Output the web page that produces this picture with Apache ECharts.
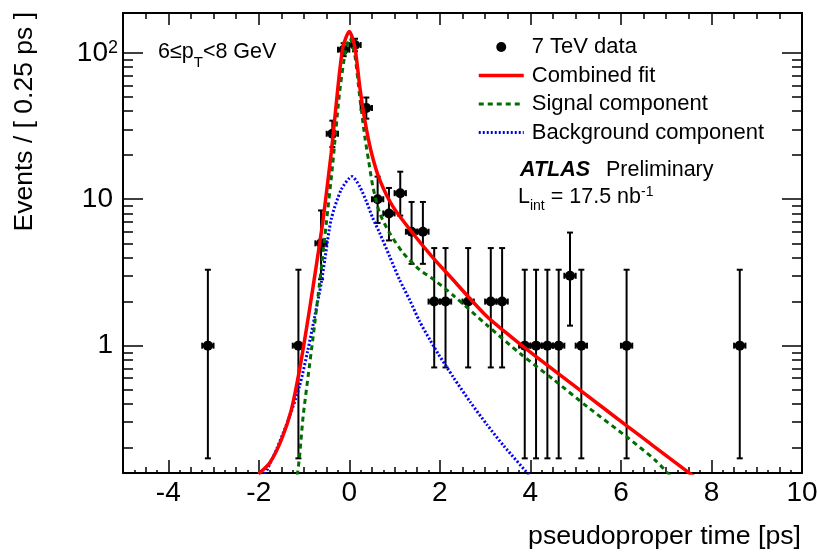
<!DOCTYPE html>
<html>
<head>
<meta charset="utf-8">
<script src="https://cdn.jsdelivr.net/npm/echarts@6/dist/echarts.min.js"></script>
<style>
html, body { margin: 0; padding: 0; background: #fff; }
#main { width: 817px; height: 552px; }
</style>
</head>
<body>
<div id="main"></div>
<script>
// data points: bin centres, counts, error bar ends
var dataX = [-3.125, -1.125, -0.625, -0.375, -0.125, 0.125, 0.375, 0.625, 0.875, 1.125, 1.375, 1.625, 1.875, 2.125, 2.625, 3.125, 3.375, 3.875, 4.125, 4.375, 4.625, 4.875, 5.125, 6.125, 8.625];
var dataY = [1, 1, 5, 28, 105, 113, 42, 10, 8, 11, 6, 6, 2, 2, 2, 2, 2, 1, 1, 1, 1, 3, 1, 1, 1];
var errLow = [0.17, 0.17, 2.84, 22.7, 94.8, 102.4, 35.5, 6.89, 5.23, 7.73, 3.62, 3.62, 0.71, 0.71, 0.71, 0.71, 0.71, 0.17, 0.17, 0.17, 0.17, 1.37, 0.17, 0.17, 0.17];
var errHigh = [3.30, 3.30, 8.38, 34.4, 116.3, 124.7, 49.5, 14.27, 11.94, 15.42, 9.58, 9.58, 4.64, 4.64, 4.64, 4.64, 4.64, 3.30, 3.30, 3.30, 3.30, 5.92, 3.30, 3.30, 3.30];
var binHalf = 0.125;

// fit curves
var combX = [-2.01, -1.76, -1.50, -1.28, -1.10, -0.95, -0.80, -0.655, -0.58, -0.40, -0.25, -0.14, 0.0, 0.12, 0.23, 0.34, 0.49, 0.67, 0.96, 1.41, 1.85, 2.29, 2.65, 3.04, 3.40, 3.78, 4.53, 5.27, 6.16, 6.75, 7.61];
var combY = [0.133, 0.158, 0.228, 0.366, 0.686, 1.29, 2.54, 5.02, 7.25, 20.7, 58.9, 110, 140, 110, 58.9, 34.9, 20.7, 13.6, 8.93, 5.81, 3.98, 2.82, 2.12, 1.58, 1.27, 1.02, 0.676, 0.452, 0.279, 0.203, 0.128];

var sigX = [-1.15, -1.10, -1.02, -0.91, -0.80, -0.69, -0.60, -0.51, -0.37, -0.22, -0.08, 0.01, 0.12, 0.23, 0.34, 0.43, 0.52, 0.67, 0.89, 1.19, 1.55, 1.85, 2.30, 3.04, 3.78, 4.53, 5.27, 6.16, 6.75, 7.08];
var sigY = [0.13, 0.175, 0.33, 0.62, 1.15, 2.2, 3.8, 6.8, 17, 52, 105, 126, 97, 50, 27, 18, 12.2, 8.05, 5.88, 4.29, 3.3, 2.85, 2.2, 1.38, 0.88, 0.58, 0.38, 0.234, 0.166, 0.13];

var bkgX = [-1.86, -1.61, -1.32, -1.10, -0.92, -0.765, -0.62, -0.54, -0.40, -0.18, 0.06, 0.23, 0.38, 0.52, 0.67, 0.89, 1.11, 1.33, 1.55, 1.78, 1.96, 2.30, 2.67, 3.04, 3.41, 3.97];
var bkgY = [0.133, 0.195, 0.329, 0.53, 0.92, 1.58, 2.68, 3.9, 7.3, 11.6, 14.3, 12.2, 9.6, 7.4, 5.88, 4.07, 2.82, 2.06, 1.47, 1.097, 0.883, 0.607, 0.413, 0.289, 0.207, 0.131];

// axis ticks
var xMajor = [-4, -2, 0, 2, 4, 6, 8];
var xLabels = [-4, -2, 0, 2, 4, 6, 8, 10];
var yMajor = [1, 10, 100];
var yMinor = [0.2, 0.3, 0.4, 0.5, 0.6, 0.7, 0.8, 0.9, 2, 3, 4, 5, 6, 7, 8, 9, 20, 30, 40, 50, 60, 70, 80, 90];

var FONT = '"Liberation Sans", Arial, Helvetica, sans-serif';

function pairs(xs, ys) {
    return xs.map(function (x, i) { return [x, ys[i]]; });
}

var myChart = echarts.init(document.getElementById('main'));

var tickStyle = { color: '#000', width: 1.5 };
var frameLine = { show: true, onZero: false, lineStyle: { color: '#000', width: 2 } };
var noLine = { show: false, onZero: false };

function xAx(pos, extra) {
    return Object.assign({
        type: 'value', position: pos, min: -5, max: 10,
        axisLine: noLine, splitLine: { show: false },
        axisLabel: { show: false }
    }, extra);
}
function yAx(pos, extra) {
    return Object.assign({
        type: 'log', position: pos, min: 0.135, max: 187,
        axisLine: noLine, splitLine: { show: false },
        axisLabel: { show: false }
    }, extra);
}

myChart.setOption({
    animation: false,
    backgroundColor: '#fff',
    grid: { left: 123, top: 13, width: 679, height: 460, outerBoundsMode: 'none' },
    xAxis: [
        xAx('bottom', {
            interval: 0.5, axisLine: frameLine,
            axisTick: { inside: true, length: 6, lineStyle: tickStyle },
            minorTick: { show: true, splitNumber: 2, length: 3, lineStyle: tickStyle }
        }),
        xAx('bottom', {
            axisTick: { inside: true, length: 13, customValues: xMajor, lineStyle: tickStyle },
            axisLabel: { show: true, customValues: xLabels, fontSize: 28, fontFamily: FONT, color: '#000', margin: 6 }
        }),
        xAx('top', {
            interval: 0.5, axisLine: frameLine,
            axisTick: { inside: true, length: 6, lineStyle: tickStyle }
        }),
        xAx('top', {
            axisTick: { inside: true, length: 12, customValues: xMajor, lineStyle: tickStyle }
        })
    ],
    yAxis: [
        yAx('left', {
            axisLine: frameLine,
            axisTick: { inside: true, length: 20, customValues: yMajor, lineStyle: tickStyle },
            axisLabel: {
                show: true, customValues: yMajor, margin: 5, color: '#000', fontSize: 28, fontFamily: FONT,
                formatter: function (v) {
                    if (Math.round(Math.log10(v)) === 2) return '{n|10}{s|2}';
                    return '{p|' + Math.round(v) + '}';
                },
                rich: {
                    n: { fontSize: 28, fontFamily: FONT, color: '#000' },
                    p: { fontSize: 28, fontFamily: FONT, color: '#000', padding: [0, 5, 0, 0] },
                    s: { fontSize: 18, fontFamily: FONT, color: '#000', verticalAlign: 'top' }
                }
            }
        }),
        yAx('left', {
            axisTick: { inside: true, length: 10, customValues: yMinor, lineStyle: tickStyle }
        }),
        yAx('right', {
            axisLine: frameLine,
            axisTick: { inside: true, length: 20, customValues: yMajor, lineStyle: tickStyle }
        }),
        yAx('right', {
            axisTick: { inside: true, length: 10, customValues: yMinor, lineStyle: tickStyle }
        })
    ],
    legend: {
        orient: 'vertical', left: 477, top: 36, padding: 0,
        itemWidth: 45, itemHeight: 10, itemGap: 6.5,
        selectedMode: false,
        textStyle: { fontSize: 22, fontFamily: FONT, color: '#000', padding: [0, 0, 0, 3] },
        data: [
            { name: '7 TeV data', icon: 'circle' },
            { name: 'Combined fit', itemStyle: { opacity: 0 }, lineStyle: { width: 3.5 } },
            { name: 'Signal component', itemStyle: { opacity: 0 }, lineStyle: { width: 3 } },
            { name: 'Background component', itemStyle: { opacity: 0 }, lineStyle: { width: 3 } }
        ]
    },
    graphic: [
        {
            type: 'text', x: 158, y: 52,
            style: {
                text: '6≤p{sub|T}<8 GeV', fill: '#000', fontSize: 21.5, fontFamily: FONT,
                verticalAlign: 'middle',
                rich: { sub: { fontSize: 15, fontFamily: FONT, fill: '#000', padding: [22, 0, 0, 0] } }
            }
        },
        {
            type: 'text', x: 520, y: 170,
            style: { text: 'ATLAS', fill: '#000', fontSize: 21.5, fontFamily: FONT, fontWeight: 'bold', fontStyle: 'italic', verticalAlign: 'middle' }
        },
        {
            type: 'text', x: 606, y: 170,
            style: { text: 'Preliminary', fill: '#000', fontSize: 21.5, fontFamily: FONT, verticalAlign: 'middle' }
        },
        {
            type: 'text', x: 518, y: 197,
            style: {
                text: 'L{sub|int} = 17.5 nb{sup|-1}', fill: '#000', fontSize: 21.5, fontFamily: FONT,
                verticalAlign: 'middle',
                rich: {
                    sub: { fontSize: 14, fontFamily: FONT, fill: '#000', padding: [18, 0, 0, 0] },
                    sup: { fontSize: 14, fontFamily: FONT, fill: '#000', padding: [0, 0, 10, 0] }
                }
            }
        },
        {
            type: 'text', x: 801, y: 537,
            style: { text: 'pseudoproper time [ps]', fill: '#000', fontSize: 26.7, fontFamily: FONT, align: 'right', verticalAlign: 'middle' }
        },
        {
            type: 'text', x: 25, y: 12, rotation: Math.PI / 2,
            style: { text: 'Events / [ 0.25 ps ]', fill: '#000', fontSize: 26.5, fontFamily: FONT, align: 'right', verticalAlign: 'middle' }
        }
    ],
    series: [
        {
            name: '7 TeV data',
            type: 'custom',
            xAxisIndex: 0, yAxisIndex: 0,
            itemStyle: { color: '#000' },
            encode: { x: 0, y: 1 },
            data: dataX.map(function (x, i) { return [x, dataY[i], errLow[i], errHigh[i]]; }),
            z: 2,
            renderItem: function (params, api) {
                var x = api.value(0), y = api.value(1);
                var c = api.coord([x, y]);
                var lo = api.coord([x, api.value(2)]);
                var hi = api.coord([x, api.value(3)]);
                var l = api.coord([x - binHalf, y]);
                var r = api.coord([x + binHalf, y]);
                var st = { stroke: '#000', lineWidth: 2 };
                return {
                    type: 'group',
                    children: [
                        { type: 'line', shape: { x1: c[0], y1: lo[1], x2: c[0], y2: hi[1] }, style: st },
                        { type: 'line', shape: { x1: c[0] - 3, y1: lo[1], x2: c[0] + 3, y2: lo[1] }, style: st },
                        { type: 'line', shape: { x1: c[0] - 3, y1: hi[1], x2: c[0] + 3, y2: hi[1] }, style: st },
                        { type: 'line', shape: { x1: l[0], y1: c[1], x2: r[0], y2: c[1] }, style: { stroke: '#000', lineWidth: 3 } },
                        { type: 'line', shape: { x1: l[0], y1: c[1] - 3, x2: l[0], y2: c[1] + 3 }, style: st },
                        { type: 'line', shape: { x1: r[0], y1: c[1] - 3, x2: r[0], y2: c[1] + 3 }, style: st },
                        { type: 'circle', shape: { cx: c[0], cy: c[1], r: 5 }, style: { fill: '#000' } }
                    ]
                };
            }
        },
        {
            name: 'Combined fit', type: 'line', xAxisIndex: 0, yAxisIndex: 0,
            data: pairs(combX, combY), symbol: 'none', smooth: 0.25,
            color: '#ff0000', lineStyle: { color: '#ff0000', width: 3.5 }, z: 5, clip: true
        },
        {
            name: 'Signal component', type: 'line', xAxisIndex: 0, yAxisIndex: 0,
            data: pairs(sigX, sigY), symbol: 'none', smooth: 0.25,
            color: '#006d00', lineStyle: { color: '#006d00', width: 3, type: [5, 4] }, z: 4, clip: true
        },
        {
            name: 'Background component', type: 'line', xAxisIndex: 0, yAxisIndex: 0,
            data: pairs(bkgX, bkgY), symbol: 'none', smooth: 0.25,
            color: '#0000ff', lineStyle: { color: '#0000ff', width: 3, type: [2, 2] }, z: 3, clip: true
        }
    ]
});
</script>
</body>
</html>
